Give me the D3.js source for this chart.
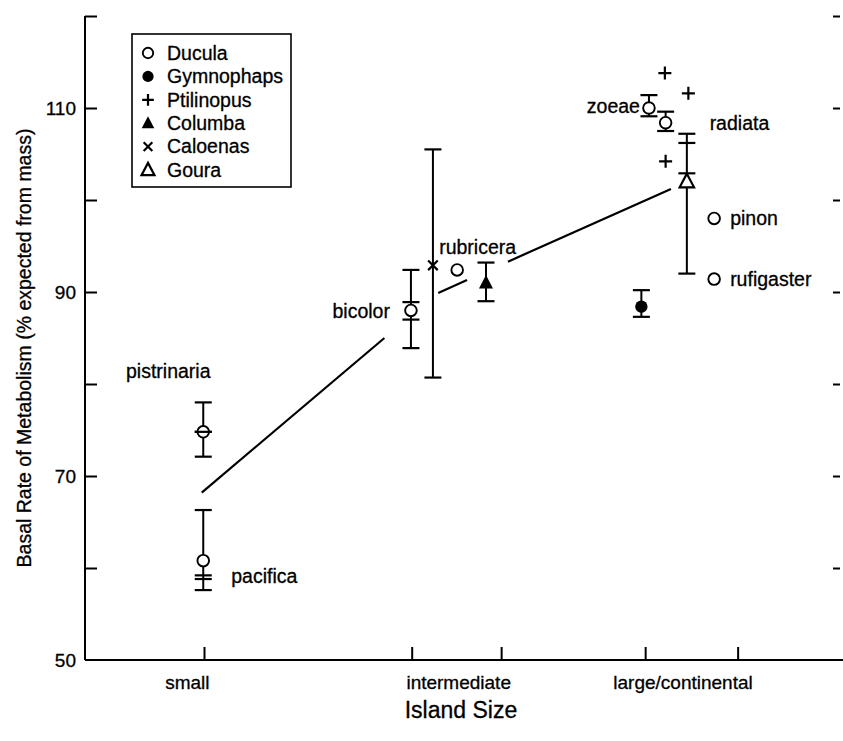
<!DOCTYPE html>
<html>
<head>
<meta charset="utf-8">
<script src="https://cdn.jsdelivr.net/npm/d3@7"></script>
<style>
  body { margin: 0; background: #fff; }
  text { font-family: "Liberation Sans", Arial, Helvetica, sans-serif; fill: #000; stroke: #000; stroke-width: 0.3px; }
</style>
</head>
<body>
<div id="chart"></div>
<script>
// legend order
const genera = ["Ducula", "Gymnophaps", "Ptilinopus", "Columba", "Caloenas", "Goura"];

// one entry per plotted point
const pointGenus   = ["Ducula", "Ducula", "Ducula", "Caloenas", "Ducula", "Columba", "Gymnophaps",
                      "Ducula", "Ducula", "Ptilinopus", "Ptilinopus", "Ptilinopus", "Goura", "Ducula", "Ducula"];
const pointSpecies = ["pistrinaria", "pacifica", "bicolor", "", "rubricera", "", "",
                      "zoeae", "radiata", "", "", "", "", "pinon", "rufigaster"];
const islandPos    = [15.6, 15.6, 43.0, 45.9, 49.1, 52.9, 73.4, 74.4, 76.6, 76.5, 79.6, 76.6, 79.4, 83.0, 83.0];
const bmr          = [74.8, 60.8, 88.0, 92.9, 92.4, 91.0, 88.4, 110.0, 108.4, 113.8, 111.6, 104.2, 102.0, 98.0, 91.4];
const errLow       = [72.1, 57.6, 83.9, 80.7, null, 89.0, 87.3, 109.1, 107.5, null, null, null, 92.0, null, null];
const errHigh      = [78.0, 66.3, 92.4, 105.5, null, 93.2, 90.2, 111.4, 109.6, null, null, null, 107.2, null, null];
const extraCaps    = [[74.8], [59.2, 58.8], [88.9, 87.0], [], [], [], [], [], [], [], [], [], [106.2, 102.9], [], []];

// trend line pieces (island position, bmr)
const trendX = [[15.4, 39.5], [46.6, 50.4], [55.8, 77.3]];
const trendY = [[68.2, 85.0], [89.9, 91.3], [93.3, 101.2]];

// axes
const yTicks = [60, 70, 80, 90, 100, 110, 120];
const yTickLabels = [50, 70, 90, 110];
const xTicks = [15.7, 43.1, 54.9, 73.9, 86.1];
const xCategories = ["small", "intermediate", "large/continental"];
const xCategoryPos = [13.5, 49.3, 78.9];

const width = 843, height = 741;

const svg = d3.select("#chart").append("svg")
    .attr("width", width)
    .attr("height", height);

const x = d3.scaleLinear().domain([0, 100]).range([85, 843]);
const y = d3.scaleLinear().domain([50, 120]).range([660, 16]);

// label placement relative to its point
const labelOffset = {
    pistrinaria: { dx: -35, dy: -61, anchor: "middle" },
    pacifica:    { dx: 28,  dy: 16,  anchor: "start" },
    bicolor:     { dx: -21, dy: 1,   anchor: "end" },
    rubricera:   { dx: -18, dy: -23, anchor: "start" },
    zoeae:       { dx: -9,  dy: -2,  anchor: "end" },
    radiata:     { dx: 44,  dy: 0,   anchor: "start" },
    pinon:       { dx: 16,  dy: 0,   anchor: "start" },
    rufigaster:  { dx: 16,  dy: 0,   anchor: "start" }
};

function symbolPath(genus, r) {
    switch (genus) {
        case "Ptilinopus":
            return `M${-r},0H${r}M0,${-r}V${r}`;
        case "Caloenas":
            return `M${-r},${-r}L${r},${r}M${-r},${r}L${r},${-r}`;
        case "Columba":
        case "Goura":
            return `M0,${-r * 1.1}L${r},${r * 0.8}L${-r},${r * 0.8}Z`;
        default:
            return d3.symbol(d3.symbolCircle, Math.PI * r * r)();
    }
}
function drawSymbol(sel, genus, scale) {
    const s = scale || 1;
    if (genus === "Ducula") {
        sel.append("path").attr("d", symbolPath(genus, 5.8 * s))
            .attr("fill", "#fff").attr("stroke", "#000").attr("stroke-width", 1.9);
    } else if (genus === "Gymnophaps") {
        sel.append("path").attr("d", symbolPath(genus, 6.2 * s)).attr("fill", "#000");
    } else if (genus === "Ptilinopus") {
        sel.append("path").attr("d", symbolPath(genus, 6.5 * s))
            .attr("fill", "none").attr("stroke", "#000").attr("stroke-width", 2.2);
    } else if (genus === "Columba") {
        sel.append("path").attr("d", symbolPath(genus, 7 * s)).attr("fill", "#000");
    } else if (genus === "Caloenas") {
        sel.append("path").attr("d", symbolPath(genus, 4.8 * s))
            .attr("fill", "none").attr("stroke", "#000").attr("stroke-width", 2.2);
    } else {
        sel.append("path").attr("d", symbolPath(genus, 7.2 * s))
            .attr("fill", "#fff").attr("stroke", "#000").attr("stroke-width", 2.2);
    }
}

// left axis
const yAxis = d3.axisRight(y).tickValues(yTicks).tickSize(12).tickFormat("");
const gy = svg.append("g").attr("transform", `translate(${x(0)},0)`).call(yAxis);
gy.select(".domain").attr("stroke-width", 2).attr("d", `M0,${y(120)}V${y(50)}`);
gy.selectAll(".tick line").attr("stroke-width", 2);

svg.append("g").selectAll("text")
    .data(yTickLabels)
    .join("text")
    .attr("x", 76)
    .attr("y", d => y(d))
    .attr("dy", "0.35em")
    .attr("text-anchor", "end")
    .style("font-size", "19px")
    .text(d => d);

// right side ticks (no axis line)
const yRight = d3.axisLeft(y).tickValues(yTicks).tickSize(7).tickFormat("");
const gr = svg.append("g").attr("transform", `translate(840,0)`).call(yRight);
gr.select(".domain").remove();
gr.selectAll(".tick line").attr("stroke-width", 2);

// bottom axis
const xAxis = d3.axisTop(x).tickValues(xTicks).tickSize(13).tickFormat("");
const gx = svg.append("g").attr("transform", `translate(0,${y(50)})`).call(xAxis);
gx.select(".domain").attr("stroke-width", 2).attr("d", `M${x(0)},0H${x(100)}`);
gx.selectAll(".tick line").attr("stroke-width", 2);

svg.append("g").selectAll("text")
    .data(xCategories)
    .join("text")
    .attr("x", (d, i) => x(xCategoryPos[i]))
    .attr("y", 689)
    .attr("text-anchor", "middle")
    .style("font-size", "19px")
    .text(d => d);

svg.append("text")
    .attr("x", 461)
    .attr("y", 718)
    .attr("text-anchor", "middle")
    .style("font-size", "23px")
    .text("Island Size");

svg.append("text")
    .attr("transform", `translate(31,${(y(50) + y(120)) / 2 + 10}) rotate(-90)`)
    .attr("text-anchor", "middle")
    .style("font-size", "19.5px")
    .text("Basal Rate of Metabolism (% expected from mass)");

// trend line
const line = d3.line().x(d => x(d[0])).y(d => y(d[1]));
svg.append("g").selectAll("path")
    .data(trendX.map((xs, i) => xs.map((v, j) => [v, trendY[i][j]])))
    .join("path")
    .attr("d", line)
    .attr("fill", "none")
    .attr("stroke", "#000")
    .attr("stroke-width", 2.2);

// error bars
const capHalf = 8.5;
const points = pointGenus.map((g, i) => ({
    genus: g, species: pointSpecies[i], pos: islandPos[i], mean: bmr[i],
    lo: errLow[i], hi: errHigh[i], caps: extraCaps[i]
}));

const eb = svg.append("g");
points.filter(p => p.lo !== null).forEach(p => {
    const cx = x(p.pos);
    eb.append("line")
        .attr("x1", cx).attr("x2", cx)
        .attr("y1", y(p.lo)).attr("y2", y(p.hi))
        .attr("stroke", "#000").attr("stroke-width", 2);
    [p.lo, p.hi].concat(p.caps).forEach(v => {
        eb.append("line")
            .attr("x1", cx - capHalf).attr("x2", cx + capHalf)
            .attr("y1", y(v)).attr("y2", y(v))
            .attr("stroke", "#000").attr("stroke-width", 2.2);
    });
});

// markers
points.forEach(p => {
    const g = svg.append("g").attr("transform", `translate(${x(p.pos)},${y(p.mean)})`);
    drawSymbol(g, p.genus);
    if (p.caps.indexOf(p.mean) >= 0) {
        g.append("line").attr("x1", -capHalf).attr("x2", capHalf)
            .attr("stroke", "#000").attr("stroke-width", 2.2);
    }
});

// point labels
svg.append("g").selectAll("text")
    .data(points.filter(p => p.species))
    .join("text")
    .attr("x", p => x(p.pos) + labelOffset[p.species].dx)
    .attr("y", p => y(p.mean) + labelOffset[p.species].dy)
    .attr("dy", "0.35em")
    .attr("text-anchor", p => labelOffset[p.species].anchor)
    .style("font-size", "19.5px")
    .text(p => p.species);

// legend
const legend = svg.append("g");
legend.append("rect")
    .attr("x", 132).attr("y", 34)
    .attr("width", 159).attr("height", 153)
    .attr("fill", "#fff").attr("stroke", "#000").attr("stroke-width", 1.6);

const rows = legend.selectAll("g.row")
    .data(genera)
    .join("g")
    .attr("class", "row")
    .attr("transform", (d, i) => `translate(148,${53 + i * 23.4})`);
rows.each(function(d) { drawSymbol(d3.select(this), d, 0.9); });
rows.append("text")
    .attr("x", 19)
    .attr("dy", "0.35em")
    .style("font-size", "19.5px")
    .text(d => d);
</script>
</body>
</html>
